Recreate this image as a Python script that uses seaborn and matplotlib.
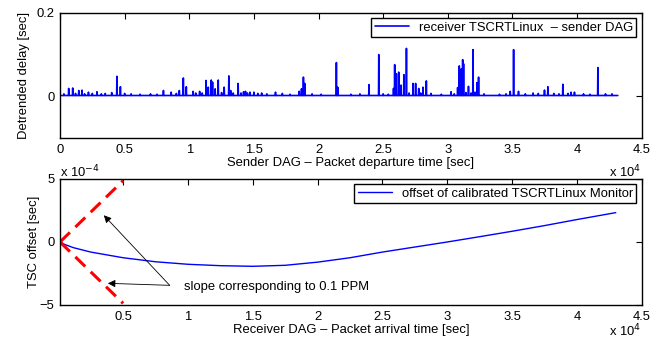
import numpy as np
import pandas as pd
import matplotlib
matplotlib.use("Agg")
import matplotlib.pyplot as plt
from matplotlib.ticker import FixedLocator, FuncFormatter
import seaborn as sns

# ---------------- data ----------------
# top panel: detrended delay spikes (time in 1e4 s, height in s)
spike_t = [0.067, 0.098, 0.145, 0.17, 0.22, 0.286, 0.40, 0.44, 0.467, 0.80, 0.86,
           0.923, 0.954, 0.977, 1.03, 1.08, 1.13, 1.147, 1.17, 1.18, 1.20, 1.224,
           1.27, 1.306, 1.32, 1.378, 1.42, 1.435, 1.47, 1.50, 1.667, 1.72, 1.85,
           1.868, 1.883, 1.893, 2.138, 2.148, 2.39, 2.466, 2.58, 2.589, 2.602,
           2.62, 2.638, 2.66, 2.68, 2.731, 2.751, 2.775, 2.808, 2.834, 3.025,
           3.076, 3.089, 3.105, 3.115, 3.122, 3.16, 3.195, 3.226, 3.238, 3.483,
           3.509, 3.547, 3.66, 3.748, 3.774, 3.89, 3.954, 3.98, 4.161]
spike_h = [0.017, 0.018, 0.012, 0.013, 0.008, 0.009, 0.007, 0.046, 0.021, 0.012, 0.008,
           0.012, 0.042, 0.021, 0.010, 0.010, 0.036, 0.020, 0.037, 0.032, 0.016, 0.037,
           0.020, 0.047, 0.012, 0.029, 0.009, 0.010, 0.008, 0.008, 0.008, 0.005, 0.010,
           0.016, 0.044, 0.029, 0.079, 0.020, 0.026, 0.098, 0.017, 0.074, 0.052,
           0.056, 0.025, 0.050, 0.113, 0.029, 0.029, 0.017, 0.020, 0.035, 0.009,
           0.019, 0.071, 0.064, 0.086, 0.076, 0.022, 0.110, 0.031, 0.044, 0.010,
           0.110, 0.010, 0.006, 0.013, 0.021, 0.027, 0.008, 0.008, 0.067]
# small baseline wiggles (time in 1e4 s, height in s)
ripple_t = [0.03, 0.12, 0.19, 0.25, 0.32, 0.35, 0.50, 0.55, 0.62, 0.70, 0.75, 0.90,
            1.05, 1.10, 1.25, 1.34, 1.40, 1.45, 1.53, 1.56, 1.60, 1.78, 1.95, 2.02,
            2.25, 2.32, 2.50, 2.54, 2.70, 2.79, 2.87, 2.95, 3.05, 3.14, 3.18, 3.21,
            3.28, 3.40, 3.45, 3.60, 3.70, 3.82, 3.86, 3.93, 4.05, 4.10, 4.22, 4.27]
ripple_h = [0.004, 0.005, 0.004, 0.005, 0.004, 0.005, 0.005, 0.004, 0.003, 0.004, 0.003, 0.005,
            0.006, 0.006, 0.007, 0.006, 0.006, 0.006, 0.005, 0.006, 0.004, 0.003, 0.004, 0.003,
            0.003, 0.004, 0.004, 0.003, 0.006, 0.006, 0.005, 0.003, 0.004, 0.007, 0.006, 0.008,
            0.004, 0.003, 0.004, 0.004, 0.005, 0.005, 0.004, 0.005, 0.004, 0.003, 0.004, 0.004]
delay_base = 0.002
delay_span = [0.0, 4.315]

# bottom panel: TSC offset (time in 1e4 s, offset in 1e-4 s)
off_t = [0.013, 0.05, 0.116, 0.25, 0.5, 0.75, 1.0, 1.25, 1.5, 1.75, 2.0, 2.25,
         2.5, 2.75, 3.0, 3.25, 3.5, 3.75, 4.0, 4.3]
off_v = [0.0, -0.2, -0.45, -0.8, -1.25, -1.57, -1.77, -1.88, -1.93, -1.85, -1.6, -1.25,
         -0.8, -0.4, 0.0, 0.42, 0.85, 1.3, 1.78, 2.33]
ppm = 0.1
slope_t = [0.013, 0.5]

# ---------------- build tables ----------------
w = 20.0
pts = [(delay_span[0] * 1e4, delay_base), (delay_span[1] * 1e4, delay_base)]
for t, h in list(zip(spike_t, spike_h)) + list(zip(ripple_t, ripple_h)):
    ts = t * 1e4
    pts += [(ts - w, delay_base), (ts, h + delay_base), (ts + w, delay_base)]
pts.sort()
top_df = pd.DataFrame(pts, columns=["t", "delay"])
top_df["series"] = "receiver TSCRTLinux  \u2013 sender DAG"

bot_df = pd.DataFrame({"t": np.array(off_t) * 1e4, "off": np.array(off_v) * 1e-4,
                       "series": "offset of calibrated TSCRTLinux Monitor"})
st = np.array(slope_t) * 1e4
up_df = pd.DataFrame({"t": st, "v": ppm * 1e-6 * (st - st[0])})
dn_df = pd.DataFrame({"t": st, "v": -ppm * 1e-6 * (st - st[0])})

# ---------------- style ----------------
FS = 9.4
sns.set_style("white")
plt.rcParams["font.family"] = ["Liberation Sans", "DejaVu Sans"]
plt.rcParams["font.size"] = FS
plt.rcParams["axes.linewidth"] = 1.0
plt.rcParams["axes.edgecolor"] = "black"
plt.rcParams["text.color"] = "black"
plt.rcParams["axes.labelcolor"] = "black"
plt.rcParams["xtick.color"] = "black"
plt.rcParams["ytick.color"] = "black"

fig = plt.figure(figsize=(6.64, 3.41), dpi=100)
ax1 = fig.add_axes([0.0904, 0.5953, 0.876, 0.3666])
ax2 = fig.add_axes([0.0904, 0.1056, 0.876, 0.3695])

blue = "#0000ff"
sns.lineplot(data=top_df, x="t", y="delay", hue="series", palette=[blue],
             estimator=None, sort=False, lw=1.2, ax=ax1)
sns.lineplot(data=bot_df, x="t", y="off", hue="series", palette=[blue],
             estimator=None, sort=False, lw=1.0, ax=ax2)
for d in (up_df, dn_df):
    sns.lineplot(data=d, x="t", y="v", color="red", lw=2.2, ax=ax2,
                 estimator=None, sort=False, linestyle=(0, (4.5, 2.5)), legend=False)

xt = np.arange(0, 4.51, 0.5) * 1e4
fmt_x = FuncFormatter(lambda v, p: f"{v/1e4:g}")
for ax in (ax1, ax2):
    ax.xaxis.set_major_locator(FixedLocator(xt))
    ax.xaxis.set_major_formatter(fmt_x)
    ax.tick_params(direction="in", top=True, right=True, length=4, width=0.8,
                   labelsize=FS, pad=4)
    for s in ax.spines.values():
        s.set_visible(True)
        s.set_color("black")

ax1.set_xlim(0, 4.5e4)
ax1.set_ylim(-0.1, 0.2)
ax1.set_yticks([0, 0.2])
ax1.set_yticklabels(["0", "0.2"])
ax1.set_xlabel("Sender DAG \u2013 Packet departure time [sec]", labelpad=1)
ax1.set_ylabel("Detrended delay [sec]", labelpad=5)

ax2.set_xlim(130, 4.5e4)
ax2.set_ylim(-5e-4, 5e-4)
ax2.set_xticks(xt[1:])
ax2.set_yticks([-5e-4, 0, 5e-4])
ax2.set_yticklabels(["\u22125", "0", "5"])
ax2.set_xlabel("Receiver DAG \u2013 Packet arrival time [sec]", labelpad=1)
ax2.set_ylabel("TSC offset [sec]", labelpad=0)

# exponent labels
fig.text(0.0904, 0.497, r"x 10$^{-4}$", ha="left", va="center", fontsize=FS)
fig.text(0.965, 0.495, r"x 10$^{4}$", ha="right", va="center", fontsize=FS)
fig.text(0.965, 0.004, r"x 10$^{4}$", ha="right", va="bottom", fontsize=FS)

# legends
for ax in (ax1, ax2):
    leg = ax.legend(loc="upper right", frameon=True, fancybox=False, framealpha=1,
                    edgecolor="black", borderpad=0.25, handlelength=2.6,
                    handletextpad=0.8, borderaxespad=0.4, fontsize=FS)
    leg.get_frame().set_linewidth(1.0)
    leg.set_title(None)

# annotation
tail = (0.859e4, -3.44e-4)
ap = dict(arrowstyle="-|>", color="black", lw=0.6, mutation_scale=11, shrinkA=0, shrinkB=0)
ax2.annotate("", xy=(0.351e4, 2.12e-4), xytext=tail, arrowprops=ap)
ax2.annotate("", xy=(0.382e4, -3.28e-4), xytext=tail, arrowprops=ap)
ax2.text(0.967e4, -3.57e-4, "slope corresponding to 0.1 PPM", ha="left", va="center",
         fontsize=FS)

fig.savefig("out.png", dpi=100)
